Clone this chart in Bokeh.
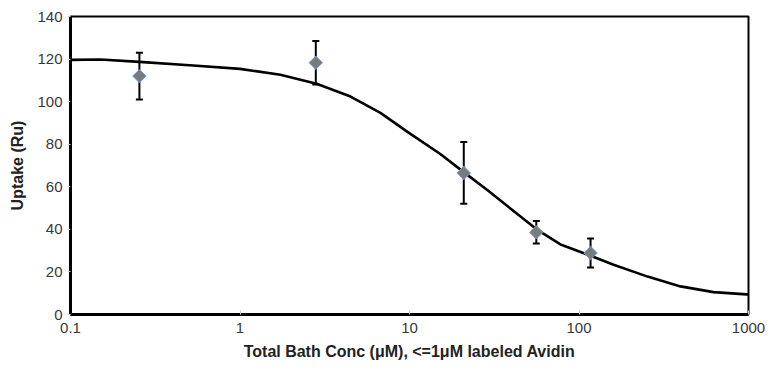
import math
from bokeh.plotting import figure
from bokeh.models import ColumnDataSource, Whisker, TeeHead, FixedTicker, CustomJSTickFormatter, Range1d
from bokeh.embed import file_html
from bokeh.resources import INLINE

# Measured data points (x = total bath conc in uM, y = uptake in Ru)
conc = [0.255, 2.8, 20.9, 56.0, 117.0]
uptake = [112.0, 118.3, 66.5, 38.6, 28.9]
err = [11.0, 10.2, 14.5, 5.3, 6.8]

# Fitted curve
curve_x = [0.1, 0.15, 0.255, 0.53, 1.0, 1.73, 2.83, 4.49, 6.74, 9.73, 15.2, 20.8, 28.9,
           41.1, 56.2, 77.8, 117.0, 160.0, 254.0, 397.0, 622.0, 973.0, 1000.0]
curve_y = [119.6, 119.8, 118.7, 117.0, 115.4, 112.6, 108.4, 102.4, 94.7, 85.8, 75.4, 67.0,
           58.4, 48.6, 40.0, 32.9, 27.6, 23.4, 17.8, 13.2, 10.5, 9.45, 9.4]

x_ticks = [0.1, 1, 10, 100, 1000]
y_ticks = [0, 20, 40, 60, 80, 100, 120, 140]

FONT = "Liberation Sans"

p = figure(width=773, height=368, x_axis_type="log", output_backend="svg",
           toolbar_location=None,
           x_range=Range1d(0.1, 1000), y_range=Range1d(0, 140),
           min_border_left=70, min_border_right=25, min_border_top=16, min_border_bottom=54)
p.background_fill_color = "white"
p.border_fill_color = "white"
p.outline_line_color = "black"
p.outline_line_width = 2
p.xgrid.visible = False
p.ygrid.visible = False

src = ColumnDataSource(dict(x=conc, y=uptake,
                            upper=[u + e for u, e in zip(uptake, err)],
                            lower=[u - e for u, e in zip(uptake, err)]))

p.line(curve_x, curve_y, line_color="black", line_width=2.6, line_join="round")

wh = Whisker(source=src, base="x", upper="upper", lower="lower",
             line_color="black", line_width=2,
             upper_head=TeeHead(size=7, line_width=2, line_color="black"),
             lower_head=TeeHead(size=7, line_width=2, line_color="black"))
p.add_layout(wh)

p.scatter("x", "y", source=src, marker="square", angle=math.pi / 4, size=9.5,
          fill_color="#7a7a7a", line_color="#6f9fd8", line_width=1)

# x axis
xa = p.xaxis[0]
xa.ticker = FixedTicker(ticks=x_ticks, minor_ticks=[])
xa.formatter = CustomJSTickFormatter(code="return String(tick);")
xa.axis_line_width = 3
xa.axis_line_color = "black"
xa.major_tick_in = 4
xa.major_tick_out = 0
xa.major_tick_line_color = "#cccccc"
xa.minor_tick_line_color = None
xa.major_label_standoff = 8
xa.major_label_text_font = FONT
xa.major_label_text_font_size = "15px"
xa.major_label_text_color = "#383838"
xa.axis_label = "Total Bath Conc (μM), <=1μM labeled Avidin"
xa.axis_label_text_font = FONT
xa.axis_label_text_font_size = "16px"
xa.axis_label_text_font_style = "bold"
xa.axis_label_text_color = "#222222"
xa.axis_label_standoff = 7

# y axis
ya = p.yaxis[0]
ya.ticker = FixedTicker(ticks=y_ticks, minor_ticks=[])
ya.axis_line_width = 3
ya.axis_line_color = "black"
ya.major_tick_in = 0
ya.major_tick_out = 3
ya.major_tick_line_color = "#cccccc"
ya.minor_tick_line_color = None
ya.major_label_standoff = 5
ya.major_label_text_font = FONT
ya.major_label_text_font_size = "15px"
ya.major_label_text_color = "#383838"
ya.axis_label = "Uptake (Ru)"
ya.axis_label_text_font = FONT
ya.axis_label_text_font_size = "16px"
ya.axis_label_text_font_style = "bold"
ya.axis_label_text_color = "#222222"
ya.axis_label_standoff = 8

open("out.html", "w").write(file_html(p, INLINE))
